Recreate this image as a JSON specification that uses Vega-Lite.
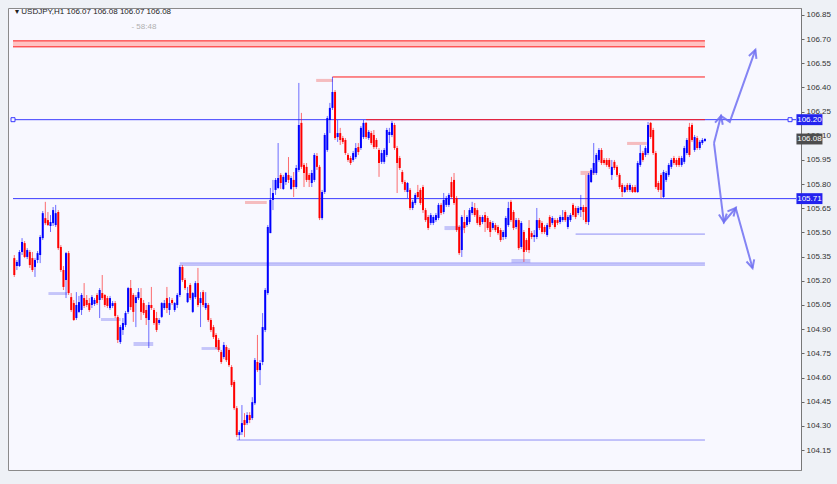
{
"$schema": "https://vega.github.io/schema/vega-lite/v6.json",
"width": 793, "height": 462,
"autosize": {"type": "none"},
"padding": {"left": 8, "top": 8, "right": 36, "bottom": 14},
"background": "#eef1f6",
"config": {"view": {"fill": "#f8f8ff", "stroke": "#8a8a8a"}, "font": "Liberation Sans",
"axisY": {"title": null, "labelFontSize": 8, "labelColor": "#333333", "tickSize": 3, "tickColor": "#666666", "domainColor": "#777777", "labelPadding": 2, "grid": false, "labelFont": "Liberation Sans", "labelOverlap": false, "labelBound": false}},
"resolve": {"scale": {"color": "independent", "fill": "independent"}},
"datasets": {
"candles": [
{"bar":1,"o":105.341,"h":105.360,"l":105.224,"c":105.236},
{"bar":2,"o":105.292,"h":105.329,"l":105.267,"c":105.317},
{"bar":3,"o":105.292,"h":105.391,"l":105.286,"c":105.379},
{"bar":4,"o":105.379,"h":105.465,"l":105.360,"c":105.441},
{"bar":5,"o":105.434,"h":105.447,"l":105.341,"c":105.348},
{"bar":6,"o":105.348,"h":105.403,"l":105.335,"c":105.391},
{"bar":7,"o":105.379,"h":105.391,"l":105.280,"c":105.298},
{"bar":8,"o":105.341,"h":105.379,"l":105.255,"c":105.267},
{"bar":9,"o":105.286,"h":105.341,"l":105.224,"c":105.329},
{"bar":10,"o":105.329,"h":105.385,"l":105.310,"c":105.372},
{"bar":11,"o":105.360,"h":105.484,"l":105.310,"c":105.472},
{"bar":12,"o":105.465,"h":105.633,"l":105.453,"c":105.620},
{"bar":13,"o":105.589,"h":105.690,"l":105.546,"c":105.558},
{"bar":14,"o":105.577,"h":105.627,"l":105.540,"c":105.546},
{"bar":15,"o":105.540,"h":105.608,"l":105.503,"c":105.565},
{"bar":16,"o":105.558,"h":105.658,"l":105.540,"c":105.639},
{"bar":17,"o":105.546,"h":105.671,"l":105.534,"c":105.620},
{"bar":18,"o":105.627,"h":105.639,"l":105.391,"c":105.403},
{"bar":19,"o":105.410,"h":105.422,"l":105.255,"c":105.267},
{"bar":20,"o":105.267,"h":105.292,"l":105.143,"c":105.162},
{"bar":21,"o":105.205,"h":105.379,"l":105.093,"c":105.372},
{"bar":22,"o":105.372,"h":105.385,"l":105.112,"c":105.124},
{"bar":23,"o":105.099,"h":105.124,"l":105.007,"c":105.019},
{"bar":24,"o":105.062,"h":105.081,"l":104.951,"c":104.957},
{"bar":25,"o":104.969,"h":105.130,"l":104.957,"c":105.050},
{"bar":26,"o":105.007,"h":105.106,"l":105.000,"c":105.068},
{"bar":27,"o":105.019,"h":105.124,"l":104.988,"c":105.112},
{"bar":28,"o":105.093,"h":105.186,"l":105.031,"c":105.044},
{"bar":29,"o":105.081,"h":105.112,"l":105.037,"c":105.050},
{"bar":30,"o":105.062,"h":105.093,"l":105.007,"c":105.019},
{"bar":31,"o":105.050,"h":105.112,"l":105.031,"c":105.099},
{"bar":32,"o":105.056,"h":105.093,"l":105.044,"c":105.081},
{"bar":33,"o":105.112,"h":105.124,"l":105.050,"c":105.062},
{"bar":34,"o":105.081,"h":105.155,"l":104.969,"c":105.143},
{"bar":35,"o":105.124,"h":105.236,"l":105.081,"c":105.093},
{"bar":36,"o":105.112,"h":105.118,"l":105.037,"c":105.050},
{"bar":37,"o":105.093,"h":105.106,"l":105.031,"c":105.044},
{"bar":38,"o":105.031,"h":105.106,"l":105.019,"c":105.093},
{"bar":39,"o":105.044,"h":105.075,"l":105.031,"c":105.062},
{"bar":40,"o":105.062,"h":105.075,"l":104.969,"c":104.982},
{"bar":41,"o":104.976,"h":104.988,"l":104.814,"c":104.833},
{"bar":42,"o":104.820,"h":104.926,"l":104.808,"c":104.913},
{"bar":43,"o":104.895,"h":104.969,"l":104.864,"c":104.938},
{"bar":44,"o":104.926,"h":105.013,"l":104.913,"c":105.000},
{"bar":45,"o":105.007,"h":105.162,"l":104.994,"c":105.155},
{"bar":46,"o":105.155,"h":105.205,"l":105.019,"c":105.037},
{"bar":47,"o":105.112,"h":105.124,"l":104.945,"c":105.007},
{"bar":48,"o":105.062,"h":105.112,"l":104.913,"c":105.099},
{"bar":49,"o":105.093,"h":105.155,"l":105.081,"c":105.130},
{"bar":50,"o":105.093,"h":105.155,"l":104.957,"c":105.007},
{"bar":51,"o":105.062,"h":105.081,"l":104.988,"c":105.000},
{"bar":52,"o":105.019,"h":105.050,"l":104.926,"c":104.969},
{"bar":53,"o":104.957,"h":105.068,"l":104.783,"c":105.050},
{"bar":54,"o":105.050,"h":105.162,"l":105.019,"c":105.031},
{"bar":55,"o":105.019,"h":105.031,"l":104.926,"c":104.938},
{"bar":56,"o":104.969,"h":105.007,"l":104.882,"c":104.895},
{"bar":57,"o":104.938,"h":104.969,"l":104.926,"c":104.957},
{"bar":58,"o":104.976,"h":105.068,"l":104.969,"c":105.062},
{"bar":59,"o":105.031,"h":105.081,"l":105.019,"c":105.062},
{"bar":60,"o":105.093,"h":105.162,"l":105.000,"c":105.031},
{"bar":61,"o":105.019,"h":105.099,"l":104.988,"c":105.062},
{"bar":62,"o":105.081,"h":105.093,"l":105.050,"c":105.062},
{"bar":63,"o":105.019,"h":105.068,"l":105.007,"c":105.062},
{"bar":64,"o":105.050,"h":105.124,"l":105.031,"c":105.112},
{"bar":65,"o":105.112,"h":105.298,"l":105.099,"c":105.286},
{"bar":66,"o":105.286,"h":105.298,"l":105.193,"c":105.205},
{"bar":67,"o":105.205,"h":105.217,"l":105.143,"c":105.155},
{"bar":68,"o":105.068,"h":105.162,"l":105.062,"c":105.124},
{"bar":69,"o":105.174,"h":105.186,"l":105.081,"c":105.093},
{"bar":70,"o":105.007,"h":105.130,"l":105.000,"c":105.124},
{"bar":71,"o":105.099,"h":105.199,"l":105.087,"c":105.186},
{"bar":72,"o":105.186,"h":105.280,"l":105.037,"c":105.050},
{"bar":73,"o":105.062,"h":105.130,"l":104.913,"c":105.093},
{"bar":74,"o":105.130,"h":105.143,"l":105.037,"c":105.050},
{"bar":75,"o":105.031,"h":105.130,"l":105.019,"c":105.062},
{"bar":76,"o":105.050,"h":105.062,"l":104.945,"c":104.957},
{"bar":77,"o":104.957,"h":104.969,"l":104.882,"c":104.895},
{"bar":78,"o":104.913,"h":104.926,"l":104.839,"c":104.851},
{"bar":79,"o":104.864,"h":104.876,"l":104.777,"c":104.789},
{"bar":80,"o":104.833,"h":104.845,"l":104.758,"c":104.771},
{"bar":81,"o":104.758,"h":104.771,"l":104.684,"c":104.696},
{"bar":82,"o":104.727,"h":104.820,"l":104.714,"c":104.802},
{"bar":83,"o":104.789,"h":104.802,"l":104.696,"c":104.708},
{"bar":84,"o":104.771,"h":104.783,"l":104.665,"c":104.677},
{"bar":85,"o":104.665,"h":104.677,"l":104.541,"c":104.553},
{"bar":86,"o":104.572,"h":104.584,"l":104.398,"c":104.410},
{"bar":87,"o":104.410,"h":104.423,"l":104.230,"c":104.243},
{"bar":88,"o":104.243,"h":104.274,"l":104.212,"c":104.261},
{"bar":89,"o":104.261,"h":104.429,"l":104.243,"c":104.317},
{"bar":90,"o":104.336,"h":104.379,"l":104.230,"c":104.305},
{"bar":91,"o":104.317,"h":104.385,"l":104.305,"c":104.367},
{"bar":92,"o":104.367,"h":104.385,"l":104.317,"c":104.336},
{"bar":93,"o":104.348,"h":104.478,"l":104.336,"c":104.447},
{"bar":94,"o":104.441,"h":104.721,"l":104.429,"c":104.708},
{"bar":95,"o":104.696,"h":104.864,"l":104.634,"c":104.646},
{"bar":96,"o":104.646,"h":104.708,"l":104.553,"c":104.690},
{"bar":97,"o":104.696,"h":105.000,"l":104.677,"c":104.913},
{"bar":98,"o":104.895,"h":105.155,"l":104.882,"c":105.143},
{"bar":99,"o":105.124,"h":105.546,"l":105.112,"c":105.534},
{"bar":100,"o":105.496,"h":105.776,"l":105.496,"c":105.702},
{"bar":101,"o":105.702,"h":105.826,"l":105.639,"c":105.745},
{"bar":102,"o":105.764,"h":105.838,"l":105.733,"c":105.826},
{"bar":103,"o":105.776,"h":106.055,"l":105.770,"c":105.838},
{"bar":104,"o":105.857,"h":105.869,"l":105.770,"c":105.807},
{"bar":105,"o":105.770,"h":105.857,"l":105.764,"c":105.845},
{"bar":106,"o":105.813,"h":105.875,"l":105.795,"c":105.869},
{"bar":107,"o":105.857,"h":105.968,"l":105.807,"c":105.826},
{"bar":108,"o":105.770,"h":105.851,"l":105.764,"c":105.838},
{"bar":109,"o":105.826,"h":105.875,"l":105.720,"c":105.782},
{"bar":110,"o":105.782,"h":105.919,"l":105.770,"c":105.900},
{"bar":111,"o":105.888,"h":106.428,"l":105.875,"c":106.167},
{"bar":112,"o":106.180,"h":106.242,"l":105.894,"c":105.907},
{"bar":113,"o":105.919,"h":105.931,"l":105.782,"c":105.869},
{"bar":114,"o":105.907,"h":105.931,"l":105.813,"c":105.826},
{"bar":115,"o":105.857,"h":105.869,"l":105.782,"c":105.826},
{"bar":116,"o":105.807,"h":105.888,"l":105.782,"c":105.869},
{"bar":117,"o":105.826,"h":105.993,"l":105.813,"c":105.981},
{"bar":118,"o":105.975,"h":105.993,"l":105.888,"c":105.907},
{"bar":119,"o":105.907,"h":105.919,"l":105.577,"c":105.589},
{"bar":120,"o":105.589,"h":105.764,"l":105.577,"c":105.751},
{"bar":121,"o":105.751,"h":106.117,"l":105.739,"c":106.105},
{"bar":122,"o":106.012,"h":106.223,"l":106.000,"c":106.210},
{"bar":123,"o":106.198,"h":106.304,"l":106.117,"c":106.273},
{"bar":124,"o":106.273,"h":106.465,"l":106.260,"c":106.372},
{"bar":125,"o":106.372,"h":106.384,"l":106.074,"c":106.086},
{"bar":126,"o":106.092,"h":106.198,"l":106.062,"c":106.117},
{"bar":127,"o":106.117,"h":106.149,"l":106.043,"c":106.074},
{"bar":128,"o":106.086,"h":106.099,"l":106.049,"c":106.062},
{"bar":129,"o":106.074,"h":106.086,"l":105.981,"c":105.993},
{"bar":130,"o":105.981,"h":105.993,"l":105.938,"c":105.950},
{"bar":131,"o":105.962,"h":105.975,"l":105.919,"c":105.931},
{"bar":132,"o":105.950,"h":106.006,"l":105.938,"c":105.993},
{"bar":133,"o":105.968,"h":106.055,"l":105.956,"c":106.024},
{"bar":134,"o":106.030,"h":106.055,"l":105.981,"c":105.999},
{"bar":135,"o":106.024,"h":106.161,"l":106.012,"c":106.149},
{"bar":136,"o":106.092,"h":106.198,"l":106.080,"c":106.180},
{"bar":137,"o":106.180,"h":106.186,"l":106.080,"c":106.092},
{"bar":138,"o":106.086,"h":106.136,"l":106.074,"c":106.124},
{"bar":139,"o":106.117,"h":106.130,"l":106.043,"c":106.055},
{"bar":140,"o":106.105,"h":106.136,"l":106.018,"c":106.030},
{"bar":141,"o":106.074,"h":106.086,"l":106.018,"c":106.030},
{"bar":142,"o":106.012,"h":106.024,"l":105.845,"c":105.931},
{"bar":143,"o":105.938,"h":106.012,"l":105.925,"c":105.993},
{"bar":144,"o":105.938,"h":106.024,"l":105.925,"c":106.012},
{"bar":145,"o":105.981,"h":106.149,"l":105.968,"c":106.136},
{"bar":146,"o":106.105,"h":106.149,"l":106.055,"c":106.124},
{"bar":147,"o":106.105,"h":106.192,"l":106.092,"c":106.180},
{"bar":148,"o":106.167,"h":106.180,"l":106.012,"c":106.024},
{"bar":149,"o":106.024,"h":106.037,"l":105.745,"c":105.931},
{"bar":150,"o":105.962,"h":105.975,"l":105.888,"c":105.900},
{"bar":151,"o":105.875,"h":105.888,"l":105.801,"c":105.813},
{"bar":152,"o":105.813,"h":105.826,"l":105.751,"c":105.764},
{"bar":153,"o":105.751,"h":105.813,"l":105.714,"c":105.807},
{"bar":154,"o":105.764,"h":105.776,"l":105.639,"c":105.652},
{"bar":155,"o":105.652,"h":105.702,"l":105.639,"c":105.690},
{"bar":156,"o":105.683,"h":105.745,"l":105.671,"c":105.733},
{"bar":157,"o":105.751,"h":105.795,"l":105.714,"c":105.720},
{"bar":158,"o":105.764,"h":105.776,"l":105.671,"c":105.683},
{"bar":159,"o":105.782,"h":105.795,"l":105.621,"c":105.639},
{"bar":160,"o":105.639,"h":105.652,"l":105.565,"c":105.577},
{"bar":161,"o":105.596,"h":105.608,"l":105.515,"c":105.528},
{"bar":162,"o":105.559,"h":105.621,"l":105.546,"c":105.608},
{"bar":163,"o":105.559,"h":105.608,"l":105.546,"c":105.596},
{"bar":164,"o":105.577,"h":105.621,"l":105.565,"c":105.608},
{"bar":165,"o":105.590,"h":105.683,"l":105.577,"c":105.671},
{"bar":166,"o":105.671,"h":105.683,"l":105.608,"c":105.621},
{"bar":167,"o":105.627,"h":105.745,"l":105.614,"c":105.702},
{"bar":168,"o":105.671,"h":105.726,"l":105.658,"c":105.714},
{"bar":169,"o":105.671,"h":105.745,"l":105.658,"c":105.733},
{"bar":170,"o":105.813,"h":105.845,"l":105.708,"c":105.720},
{"bar":171,"o":105.826,"h":105.869,"l":105.671,"c":105.683},
{"bar":172,"o":105.714,"h":105.726,"l":105.503,"c":105.515},
{"bar":173,"o":105.534,"h":105.546,"l":105.360,"c":105.372},
{"bar":174,"o":105.391,"h":105.608,"l":105.348,"c":105.596},
{"bar":175,"o":105.565,"h":105.639,"l":105.496,"c":105.528},
{"bar":176,"o":105.546,"h":105.608,"l":105.534,"c":105.596},
{"bar":177,"o":105.565,"h":105.652,"l":105.552,"c":105.639},
{"bar":178,"o":105.621,"h":105.690,"l":105.608,"c":105.658},
{"bar":179,"o":105.652,"h":105.683,"l":105.596,"c":105.608},
{"bar":180,"o":105.639,"h":105.652,"l":105.546,"c":105.559},
{"bar":181,"o":105.596,"h":105.608,"l":105.534,"c":105.546},
{"bar":182,"o":105.565,"h":105.608,"l":105.552,"c":105.596},
{"bar":183,"o":105.608,"h":105.627,"l":105.503,"c":105.565},
{"bar":184,"o":105.590,"h":105.602,"l":105.515,"c":105.528},
{"bar":185,"o":105.565,"h":105.577,"l":105.472,"c":105.503},
{"bar":186,"o":105.528,"h":105.571,"l":105.515,"c":105.559},
{"bar":187,"o":105.546,"h":105.559,"l":105.503,"c":105.515},
{"bar":188,"o":105.534,"h":105.546,"l":105.484,"c":105.496},
{"bar":189,"o":105.515,"h":105.528,"l":105.441,"c":105.453},
{"bar":190,"o":105.472,"h":105.515,"l":105.453,"c":105.503},
{"bar":191,"o":105.472,"h":105.602,"l":105.459,"c":105.590},
{"bar":192,"o":105.546,"h":105.690,"l":105.534,"c":105.652},
{"bar":193,"o":105.690,"h":105.702,"l":105.565,"c":105.577},
{"bar":194,"o":105.627,"h":105.639,"l":105.515,"c":105.528},
{"bar":195,"o":105.534,"h":105.590,"l":105.521,"c":105.577},
{"bar":196,"o":105.577,"h":105.590,"l":105.391,"c":105.403},
{"bar":197,"o":105.410,"h":105.571,"l":105.397,"c":105.559},
{"bar":198,"o":105.503,"h":105.515,"l":105.317,"c":105.379},
{"bar":199,"o":105.453,"h":105.465,"l":105.379,"c":105.391},
{"bar":200,"o":105.528,"h":105.577,"l":105.372,"c":105.391},
{"bar":201,"o":105.496,"h":105.509,"l":105.459,"c":105.472},
{"bar":202,"o":105.472,"h":105.515,"l":105.441,"c":105.484},
{"bar":203,"o":105.472,"h":105.652,"l":105.459,"c":105.577},
{"bar":204,"o":105.577,"h":105.590,"l":105.515,"c":105.528},
{"bar":205,"o":105.559,"h":105.571,"l":105.490,"c":105.503},
{"bar":206,"o":105.534,"h":105.546,"l":105.490,"c":105.503},
{"bar":207,"o":105.484,"h":105.559,"l":105.472,"c":105.546},
{"bar":208,"o":105.596,"h":105.608,"l":105.521,"c":105.534},
{"bar":209,"o":105.559,"h":105.602,"l":105.546,"c":105.590},
{"bar":210,"o":105.577,"h":105.590,"l":105.521,"c":105.534},
{"bar":211,"o":105.577,"h":105.590,"l":105.546,"c":105.559},
{"bar":212,"o":105.565,"h":105.608,"l":105.552,"c":105.596},
{"bar":213,"o":105.577,"h":105.639,"l":105.565,"c":105.596},
{"bar":214,"o":105.627,"h":105.639,"l":105.565,"c":105.577},
{"bar":215,"o":105.534,"h":105.608,"l":105.521,"c":105.596},
{"bar":216,"o":105.577,"h":105.621,"l":105.565,"c":105.608},
{"bar":217,"o":105.671,"h":105.683,"l":105.596,"c":105.608},
{"bar":218,"o":105.652,"h":105.664,"l":105.583,"c":105.596},
{"bar":219,"o":105.621,"h":105.664,"l":105.608,"c":105.652},
{"bar":220,"o":105.639,"h":105.733,"l":105.596,"c":105.658},
{"bar":221,"o":105.658,"h":105.671,"l":105.577,"c":105.627},
{"bar":222,"o":105.658,"h":105.857,"l":105.552,"c":105.565},
{"bar":223,"o":105.565,"h":105.869,"l":105.546,"c":105.857},
{"bar":224,"o":105.813,"h":105.900,"l":105.807,"c":105.888},
{"bar":225,"o":105.869,"h":106.055,"l":105.857,"c":105.931},
{"bar":226,"o":105.869,"h":105.993,"l":105.857,"c":105.981},
{"bar":227,"o":105.950,"h":106.024,"l":105.938,"c":106.012},
{"bar":228,"o":106.012,"h":106.024,"l":105.919,"c":105.931},
{"bar":229,"o":105.950,"h":105.962,"l":105.919,"c":105.931},
{"bar":230,"o":105.950,"h":105.962,"l":105.907,"c":105.919},
{"bar":231,"o":105.950,"h":105.962,"l":105.894,"c":105.907},
{"bar":232,"o":105.857,"h":105.950,"l":105.826,"c":105.907},
{"bar":233,"o":105.938,"h":105.950,"l":105.888,"c":105.900},
{"bar":234,"o":105.907,"h":105.919,"l":105.845,"c":105.857},
{"bar":235,"o":105.857,"h":105.869,"l":105.770,"c":105.782},
{"bar":236,"o":105.795,"h":105.807,"l":105.720,"c":105.751},
{"bar":237,"o":105.751,"h":105.795,"l":105.745,"c":105.782},
{"bar":238,"o":105.795,"h":105.807,"l":105.751,"c":105.764},
{"bar":239,"o":105.764,"h":105.807,"l":105.751,"c":105.795},
{"bar":240,"o":105.782,"h":105.795,"l":105.745,"c":105.751},
{"bar":241,"o":105.782,"h":105.795,"l":105.745,"c":105.751},
{"bar":242,"o":105.751,"h":105.944,"l":105.745,"c":105.931},
{"bar":243,"o":105.919,"h":106.043,"l":105.907,"c":105.993},
{"bar":244,"o":105.993,"h":106.006,"l":105.938,"c":105.950},
{"bar":245,"o":105.981,"h":106.037,"l":105.968,"c":106.024},
{"bar":246,"o":105.993,"h":106.186,"l":105.981,"c":106.167},
{"bar":247,"o":106.180,"h":106.186,"l":106.080,"c":106.092},
{"bar":248,"o":106.136,"h":106.149,"l":105.981,"c":105.993},
{"bar":249,"o":105.993,"h":106.006,"l":105.770,"c":105.782},
{"bar":250,"o":105.807,"h":105.820,"l":105.751,"c":105.764},
{"bar":251,"o":105.857,"h":105.869,"l":105.714,"c":105.764},
{"bar":252,"o":105.720,"h":105.888,"l":105.714,"c":105.875},
{"bar":253,"o":105.826,"h":105.882,"l":105.813,"c":105.869},
{"bar":254,"o":105.857,"h":105.931,"l":105.845,"c":105.919},
{"bar":255,"o":105.907,"h":105.962,"l":105.894,"c":105.950},
{"bar":256,"o":105.962,"h":105.975,"l":105.919,"c":105.931},
{"bar":257,"o":105.950,"h":105.962,"l":105.907,"c":105.919},
{"bar":258,"o":105.962,"h":105.975,"l":105.907,"c":105.919},
{"bar":259,"o":105.919,"h":105.975,"l":105.907,"c":105.962},
{"bar":260,"o":105.938,"h":106.037,"l":105.925,"c":106.024},
{"bar":261,"o":105.993,"h":106.086,"l":105.981,"c":106.074},
{"bar":262,"o":106.155,"h":106.180,"l":105.968,"c":105.981},
{"bar":263,"o":106.167,"h":106.180,"l":106.062,"c":106.074},
{"bar":264,"o":106.012,"h":106.105,"l":106.000,"c":106.092},
{"bar":265,"o":106.086,"h":106.099,"l":106.012,"c":106.024},
{"bar":266,"o":106.024,"h":106.074,"l":106.012,"c":106.062},
{"bar":267,"o":106.055,"h":106.086,"l":106.043,"c":106.074},
{"bar":268,"o":106.068,"h":106.086,"l":106.062,"c":106.080}
],
"levels": [
{"from":0.5,"to":268,"price":106.689,"kind":"resistance"},
{"from":0.5,"to":268,"price":106.652,"kind":"resistance"},
{"from":124,"to":268,"price":106.465,"kind":"resistance"},
{"from":0.5,"to":303.2,"price":106.20,"kind":"support"},
{"from":137,"to":268,"price":106.20,"kind":"resistance"},
{"from":0.5,"to":303.2,"price":105.71,"kind":"support"},
{"from":218,"to":268,"price":105.49,"kind":"zone"},
{"from":65,"to":268,"price":105.31,"kind":"zone"},
{"from":65,"to":268,"price":105.298,"kind":"zone"},
{"from":87,"to":268,"price":104.212,"kind":"zone"}
],
"markers": [
{"side":"sell","from":90.2,"to":98.6,"low":105.677,"high":105.695},
{"side":"sell","from":117.7,"to":124.2,"low":106.434,"high":106.453},
{"side":"sell","from":219.9,"to":225.3,"low":105.857,"high":105.882},
{"side":"sell","from":237.9,"to":245.5,"low":106.043,"high":106.062},
{"side":"buy","from":14.2,"to":21.5,"low":105.112,"high":105.130},
{"side":"buy","from":34.5,"to":42.1,"low":104.950,"high":104.969},
{"side":"buy","from":47.1,"to":54.7,"low":104.795,"high":104.820},
{"side":"buy","from":73.4,"to":80.7,"low":104.771,"high":104.789},
{"side":"buy","from":167.3,"to":174.9,"low":105.515,"high":105.540},
{"side":"buy","from":193.2,"to":200.5,"low":105.310,"high":105.335}
],
"proj": [
{"path":"up","step":1,"bar":271.5,"price":106.055},
{"path":"up","step":2,"bar":274.2,"price":106.223},
{"path":"up","step":3,"bar":277.6,"price":106.186},
{"path":"up","step":4,"bar":287.5,"price":106.633},
{"path":"down","step":1,"bar":271.5,"price":106.055},
{"path":"down","step":2,"bar":275.3,"price":105.565},
{"path":"down","step":3,"bar":279.9,"price":105.652},
{"path":"down","step":4,"bar":286.4,"price":105.279}
],
"tags": [
{"bar":308.4,"price":106.20,"label":"106.20","kind":"level"},
{"bar":308.4,"price":105.71,"label":"105.71","kind":"level"},
{"bar":308.4,"price":106.08,"label":"106.08","kind":"bid"}
]
},
"layer": [
{
"data": {"values": [{"from":0.5,"to":268,"low":106.652,"high":106.689}]},
"mark": {"type": "rect", "color": "#ffc2c2"},
"encoding": {
"x": {"field": "from", "type": "quantitative", "scale": {"domain": [0.5, 303.2], "nice": false, "zero": false}, "axis": null},
"x2": {"field": "to"},
"y": {"field": "low", "type": "quantitative", "scale": {"domain": [104.026, 106.893], "nice": false, "zero": false}, "axis": {"orient": "right", "values": [104.15,104.3,104.45,104.6,104.75,104.9,105.05,105.2,105.35,105.5,105.65,105.8,105.95,106.1,106.25,106.4,106.55,106.7,106.85], "tickCount": 40, "format": ".2f", "labelOverlap": false}},
"y2": {"field": "high"}
}
},
{
"data": {"name": "levels"},
"mark": {"type": "rule", "strokeWidth": 1},
"encoding": {
"x": {"field": "from", "type": "quantitative", "scale": {"domain": [0.5, 303.2], "nice": false, "zero": false}, "axis": null},
"x2": {"field": "to"},
"y": {"field": "price", "type": "quantitative", "scale": {"domain": [104.026, 106.893], "nice": false, "zero": false}, "axis": {"orient": "right"}},
"color": {"field": "kind", "type": "nominal", "scale": {"domain": ["resistance", "support", "zone"], "range": ["#ff1a1a", "#3a3aff", "#8d8df5"]}, "legend": null}
}
},
{
"data": {"name": "markers"},
"mark": {"type": "rect", "opacity": 0.55},
"encoding": {
"x": {"field": "from", "type": "quantitative", "scale": {"domain": [0.5, 303.2], "nice": false, "zero": false}, "axis": null},
"x2": {"field": "to"},
"y": {"field": "low", "type": "quantitative", "scale": {"domain": [104.026, 106.893], "nice": false, "zero": false}, "axis": {"orient": "right"}},
"y2": {"field": "high"},
"fill": {"field": "side", "type": "nominal", "scale": {"domain": ["sell", "buy"], "range": ["#f28b8b", "#9a9af5"]}, "legend": null}
}
},
{
"data": {"name": "candles"},
"mark": {"type": "rule", "strokeWidth": 1, "opacity": 0.6},
"encoding": {
"x": {"field": "bar", "type": "quantitative", "scale": {"domain": [0.5, 303.2], "nice": false, "zero": false}, "axis": null},
"y": {"field": "l", "type": "quantitative", "scale": {"domain": [104.026, 106.893], "nice": false, "zero": false}, "axis": {"orient": "right"}},
"y2": {"field": "h"},
"color": {"condition": {"test": "datum.c >= datum.o", "value": "#1010ff"}, "value": "#ff1010"}
}
},
{
"data": {"name": "candles"},
"mark": {"type": "bar", "size": 2},
"encoding": {
"x": {"field": "bar", "type": "quantitative", "scale": {"domain": [0.5, 303.2], "nice": false, "zero": false}, "axis": null},
"y": {"field": "o", "type": "quantitative", "scale": {"domain": [104.026, 106.893], "nice": false, "zero": false}, "axis": {"orient": "right"}},
"y2": {"field": "c"},
"color": {"condition": {"test": "datum.c >= datum.o", "value": "#0000ff"}, "value": "#ff0000"}
}
},
{
"data": {"name": "proj"},
"mark": {"type": "line", "strokeWidth": 2, "color": "#7070f2", "opacity": 0.85},
"encoding": {
"x": {"field": "bar", "type": "quantitative", "scale": {"domain": [0.5, 303.2], "nice": false, "zero": false}, "axis": null},
"y": {"field": "price", "type": "quantitative", "scale": {"domain": [104.026, 106.893], "nice": false, "zero": false}, "axis": {"orient": "right"}},
"detail": {"field": "path"},
"order": {"field": "step"}
}
},
{
"data": {"values": [{"bar":274.2,"price":106.223}]},
"mark": {"type": "point", "shape": "M-0.7,1.4L0,0L0.7,1.4", "size": 130, "filled": false, "strokeWidth": 2, "color": "#7070f2", "opacity": 0.85, "angle": 15},
"encoding": {
"x": {"field": "bar", "type": "quantitative", "scale": {"domain": [0.5, 303.2], "nice": false, "zero": false}, "axis": null},
"y": {"field": "price", "type": "quantitative", "scale": {"domain": [104.026, 106.893], "nice": false, "zero": false}, "axis": {"orient": "right"}}
}
},
{
"data": {"values": [{"bar":287.5,"price":106.633}]},
"mark": {"type": "point", "shape": "M-0.7,1.4L0,0L0.7,1.4", "size": 130, "filled": false, "strokeWidth": 2, "color": "#7070f2", "opacity": 0.85, "angle": 20},
"encoding": {
"x": {"field": "bar", "type": "quantitative", "scale": {"domain": [0.5, 303.2], "nice": false, "zero": false}, "axis": null},
"y": {"field": "price", "type": "quantitative", "scale": {"domain": [104.026, 106.893], "nice": false, "zero": false}, "axis": {"orient": "right"}}
}
},
{
"data": {"values": [{"bar":275.3,"price":105.565}]},
"mark": {"type": "point", "shape": "M-0.7,1.4L0,0L0.7,1.4", "size": 130, "filled": false, "strokeWidth": 2, "color": "#7070f2", "opacity": 0.85, "angle": 173},
"encoding": {
"x": {"field": "bar", "type": "quantitative", "scale": {"domain": [0.5, 303.2], "nice": false, "zero": false}, "axis": null},
"y": {"field": "price", "type": "quantitative", "scale": {"domain": [104.026, 106.893], "nice": false, "zero": false}, "axis": {"orient": "right"}}
}
},
{
"data": {"values": [{"bar":279.9,"price":105.652}]},
"mark": {"type": "point", "shape": "M-0.7,1.4L0,0L0.7,1.4", "size": 130, "filled": false, "strokeWidth": 2, "color": "#7070f2", "opacity": 0.85, "angle": 41},
"encoding": {
"x": {"field": "bar", "type": "quantitative", "scale": {"domain": [0.5, 303.2], "nice": false, "zero": false}, "axis": null},
"y": {"field": "price", "type": "quantitative", "scale": {"domain": [104.026, 106.893], "nice": false, "zero": false}, "axis": {"orient": "right"}}
}
},
{
"data": {"values": [{"bar":286.4,"price":105.279}]},
"mark": {"type": "point", "shape": "M-0.7,1.4L0,0L0.7,1.4", "size": 130, "filled": false, "strokeWidth": 2, "color": "#7070f2", "opacity": 0.85, "angle": 164},
"encoding": {
"x": {"field": "bar", "type": "quantitative", "scale": {"domain": [0.5, 303.2], "nice": false, "zero": false}, "axis": null},
"y": {"field": "price", "type": "quantitative", "scale": {"domain": [104.026, 106.893], "nice": false, "zero": false}, "axis": {"orient": "right"}}
}
},
{
"data": {"values": [{"bar":0.5,"price":106.20},{"bar":300.9,"price":106.20}]},
"mark": {"type": "point", "shape": "square", "size": 16, "filled": true, "fill": "#f8f8ff", "stroke": "#3a3aff", "strokeWidth": 1, "opacity": 1},
"encoding": {
"x": {"field": "bar", "type": "quantitative", "scale": {"domain": [0.5, 303.2], "nice": false, "zero": false}, "axis": null},
"y": {"field": "price", "type": "quantitative", "scale": {"domain": [104.026, 106.893], "nice": false, "zero": false}, "axis": {"orient": "right"}}
}
},
{
"data": {"name": "tags"},
"mark": {"type": "point", "shape": "M-1,-0.42H1V0.42H-1Z", "size": 676, "filled": true, "opacity": 1},
"encoding": {
"x": {"field": "bar", "type": "quantitative", "scale": {"domain": [0.5, 303.2], "nice": false, "zero": false}, "axis": null},
"y": {"field": "price", "type": "quantitative", "scale": {"domain": [104.026, 106.893], "nice": false, "zero": false}, "axis": {"orient": "right"}},
"color": {"field": "kind", "type": "nominal", "scale": {"domain": ["level", "bid"], "range": ["#2323ee", "#4d4d4d"]}, "legend": null}
}
},
{
"data": {"name": "tags"},
"mark": {"type": "text", "fontSize": 8, "color": "#ffffff", "align": "center", "baseline": "middle", "font": "Liberation Sans"},
"encoding": {
"x": {"field": "bar", "type": "quantitative", "scale": {"domain": [0.5, 303.2], "nice": false, "zero": false}, "axis": null},
"y": {"field": "price", "type": "quantitative", "scale": {"domain": [104.026, 106.893], "nice": false, "zero": false}, "axis": {"orient": "right"}},
"text": {"field": "label"}
}
},
{
"data": {"values": [{"bar":1.3,"price":106.869,"label":"▾ USDJPY,H1  106.07 106.08 106.07 106.08"}]},
"mark": {"type": "text", "fontSize": 8, "align": "left", "baseline": "middle", "font": "Liberation Sans", "color": "#222222"},
"encoding": {
"x": {"field": "bar", "type": "quantitative", "scale": {"domain": [0.5, 303.2], "nice": false, "zero": false}, "axis": null},
"y": {"field": "price", "type": "quantitative", "scale": {"domain": [104.026, 106.893], "nice": false, "zero": false}, "axis": {"orient": "right"}},
"text": {"field": "label"}
}
},
{
"data": {"values": [{"bar":46.3,"price":106.775,"label":"- 58:48"}]},
"mark": {"type": "text", "fontSize": 8, "align": "left", "baseline": "middle", "font": "Liberation Sans", "color": "#b0b0b0"},
"encoding": {
"x": {"field": "bar", "type": "quantitative", "scale": {"domain": [0.5, 303.2], "nice": false, "zero": false}, "axis": null},
"y": {"field": "price", "type": "quantitative", "scale": {"domain": [104.026, 106.893], "nice": false, "zero": false}, "axis": {"orient": "right"}},
"text": {"field": "label"}
}
}
]
}
